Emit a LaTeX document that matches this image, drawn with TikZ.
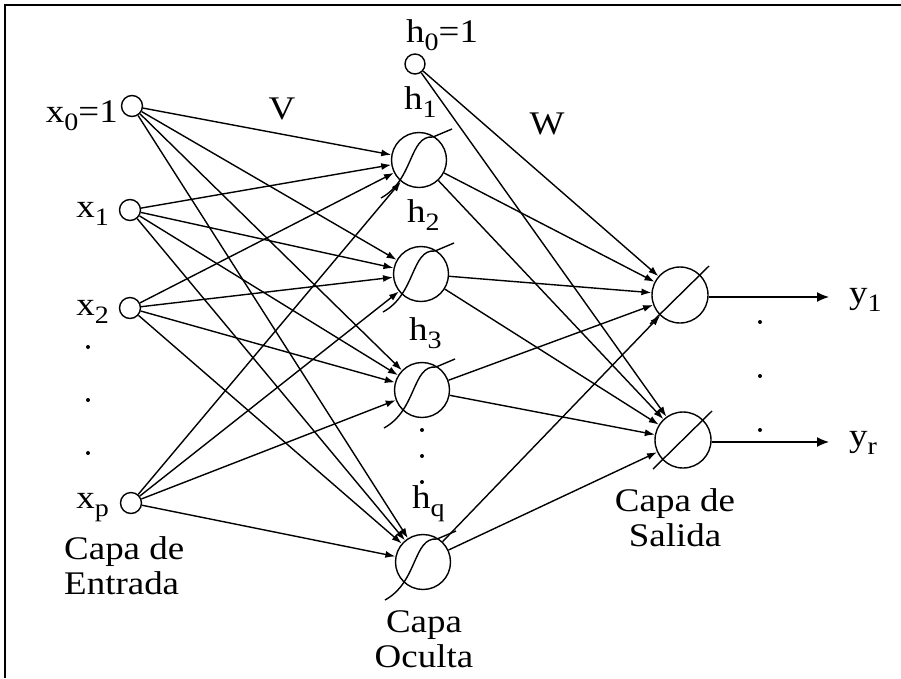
\documentclass[tikz,border=0pt]{standalone}
\usepackage{fontspec}
\setmainfont[FakeStretch=1.12]{Liberation Serif}
\usetikzlibrary{arrows.meta}
\newcommand\subx[1]{\raisebox{-8pt}{\fontsize{25}{25}\selectfont #1}}
\begin{document}
\begin{tikzpicture}[x=1pt,y=-1pt,
  lbl/.style={inner sep=0pt,font=\fontsize{33}{35}\selectfont},
  inn/.style={circle,draw,line width=1.4pt,minimum size=21pt,inner sep=0pt},
  hid/.style={circle,draw,line width=1.4pt,minimum size=55pt,inner sep=0pt},
  outn/.style={circle,draw,line width=1.4pt,minimum size=56pt,inner sep=0pt},
  con/.style={line width=1.4pt,-{Latex[length=10pt,width=7pt]}},
  dot/.style={circle,fill,inner sep=0pt,minimum size=4pt},
  sig/.pic={\draw[line width=1.4pt] (-38,38) .. controls (-5,20) and (-10,-25) .. (14,-23) -- (33,-31);},
  slash/.pic={\draw[line width=1.4pt] (-30,29) -- (29,-29);}
]
\useasboundingbox (0,0) rectangle (901,678);
\fill[white] (0,0) rectangle (901,678);
\draw[line width=2.5pt] (5,678) -- (5,5) -- (901,5);

% input layer
\node[inn] (x0) at (132,106) {};
\node[inn] (x1) at (130,210) {};
\node[inn] (x2) at (130,308) {};
\node[inn] (xp) at (131,503) {};
\node[lbl,anchor=base east] (lx0) at (118,122) {x\subx{0}=1};
\node[lbl,anchor=base east] (lx1) at (109,217) {x\subx{1}};
\node[lbl,anchor=base east] (lx2) at (109,315) {x\subx{2}};
\node[lbl,anchor=base east] (lxp) at (109,508) {x\subx{p}};
\node[dot] (d1) at (88,347) {};
\node[dot] (d2) at (88,400) {};
\node[dot] (d3) at (88,453) {};
\node[lbl,align=left,anchor=north west] (capaent) at (64,536) {Capa de\\Entrada};

% hidden layer
\node[inn,minimum size=20pt] (h0) at (415,64) {};
\node[hid] (h1) at (419,160) {};
\node[hid] (h2) at (421,274) {};
\node[hid] (h3) at (422,390) {};
\node[hid] (hq) at (423,562) {};
\foreach \h in {h1,h2,h3,hq} {\pic at (\h) {sig};}
\node[lbl,anchor=base west] (lh0) at (406,42) {h\subx{0}=1};
\node[lbl,anchor=base west] (lh1) at (404,109) {h\subx{1}};
\node[lbl,anchor=base west] (lh2) at (407,222) {h\subx{2}};
\node[lbl,anchor=base west] (lh3) at (409,340) {h\subx{3}};
\node[lbl,anchor=base west] (lhq) at (412,508) {h\subx{q}};
\node[dot] (e1) at (422,430) {};
\node[dot] (e2) at (422,456) {};
\node[dot] (e3) at (422,482) {};
\node[lbl,align=center,anchor=north] (capaocu) at (424,610) {Capa\\Oculta};

% output layer
\node[outn] (o1) at (680,295) {};
\node[outn] (o2) at (683,440) {};
\pic at (o1) {slash};
\pic at (o2) {slash};
\coordinate (y1) at (829,297);
\coordinate (yr) at (829,442);
\draw[line width=1.4pt,-{Latex[length=12pt,width=10pt]}] (o1.east |- y1) -- (y1);
\draw[line width=1.4pt,-{Latex[length=12pt,width=10pt]}] (o2.east |- yr) -- (yr);
\node[lbl,anchor=base west] (ly1) at (849,303) {y\subx{1}};
\node[lbl,anchor=base west] (lyr) at (849,446) {y\subx{r}};
\node[dot] (f1) at (760,322) {};
\node[dot] (f2) at (760,376) {};
\node[dot] (f3) at (760,430) {};
\node[lbl,align=center,anchor=north] (capasal) at (675,488) {Capa de\\Salida};

\node[lbl,anchor=base] (V) at (282,119) {V};
\node[lbl,anchor=base] (W) at (547,134) {W};

% connections
\foreach \i in {x0,x1,x2,xp} {
  \foreach \h in {h1,h2,h3,hq} {
    \draw[con] (\i) -- (\h);
  }
}
\foreach \h in {h0,h1,h2,h3,hq} {
  \foreach \o in {o1,o2} {
    \draw[con] (\h) -- (\o);
  }
}
\end{tikzpicture}
\end{document}
